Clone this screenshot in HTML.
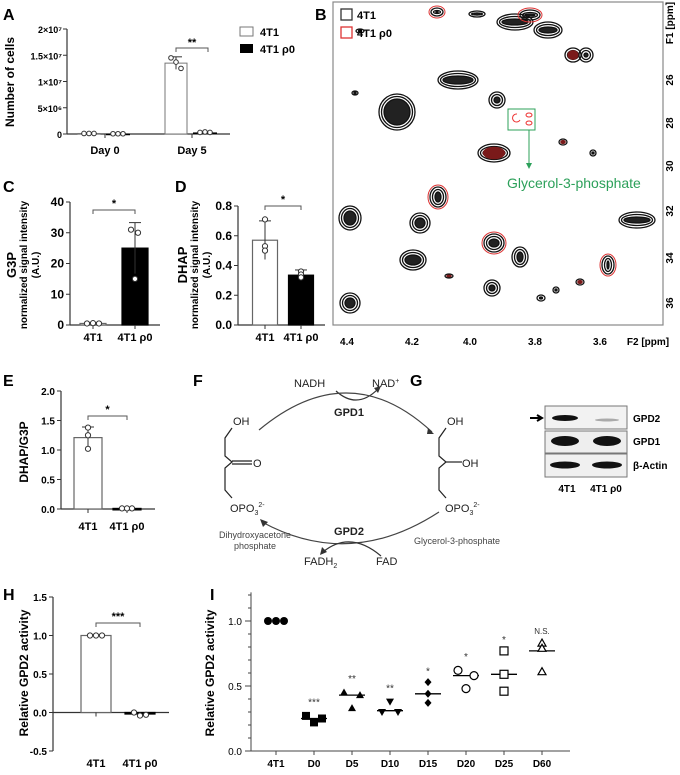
<!DOCTYPE html>
<html><head><meta charset="utf-8">
<style>
html,body{margin:0;padding:0;background:#fff;}
svg{display:block;font-family:"Liberation Sans",Arial,sans-serif;}
.b{font-weight:bold;}
</style></head>
<body>
<svg id="fig" width="680" height="775" viewBox="0 0 680 775" xmlns="http://www.w3.org/2000/svg">
<g font-size="16" font-weight="bold">
<text x="3" y="20">A</text><text x="315" y="20">B</text><text x="3" y="192">C</text><text x="175" y="192">D</text>
<text x="3" y="386">E</text><text x="193" y="386">F</text><text x="410" y="386">G</text>
<text x="3" y="600">H</text><text x="210" y="600">I</text>
</g>

<!-- Panel B NMR -->
<g>
<rect x="333" y="2" width="330" height="323" fill="#fff" stroke="#888" stroke-width="1.2"/>
<g id="blobs"></g>
<rect x="341" y="9" width="11" height="11" fill="none" stroke="#333" stroke-width="1.3"/>
<text x="357" y="19" font-size="11" class="b">4T1</text>
<rect x="341" y="27" width="11" height="11" fill="none" stroke="#d33" stroke-width="1.3"/>
<text x="357" y="37" font-size="11" class="b">4T1 ρ0</text>
<rect x="508" y="109" width="27" height="21" fill="none" stroke="#2ca05a" stroke-width="1"/>
<path d="M517,114 a4,4 0 1,0 3,6" fill="none" stroke="#e33" stroke-width="1"/>
<ellipse cx="529" cy="115" rx="3" ry="2" fill="none" stroke="#e33"/><ellipse cx="529" cy="123" rx="3" ry="2" fill="none" stroke="#e33"/>
<line x1="529" y1="130" x2="529" y2="166" stroke="#2ca05a" stroke-width="1"/>
<path d="M526,163 L529,169 L532,163Z" fill="#2ca05a"/>
<text x="507" y="188" font-size="14" fill="#2ca05a">Glycerol-3-phosphate</text>
<g font-size="10" class="b" text-anchor="middle">
<text x="347" y="345">4.4</text><text x="412" y="345">4.2</text><text x="470" y="345">4.0</text><text x="535" y="345">3.8</text><text x="600" y="345">3.6</text><text x="648" y="345">F2 [ppm]</text>
</g>
<g font-size="10" class="b" text-anchor="middle">
<text transform="translate(673,23) rotate(-90)">F1 [ppm]</text>
<text transform="translate(673,80) rotate(-90)">26</text><text transform="translate(673,123) rotate(-90)">28</text>
<text transform="translate(673,166) rotate(-90)">30</text><text transform="translate(673,211) rotate(-90)">32</text>
<text transform="translate(673,258) rotate(-90)">34</text><text transform="translate(673,303) rotate(-90)">36</text>
</g>
</g>

<!-- Panel F pathway -->
<g font-size="11" fill="#222">
<text x="294" y="387">NADH</text><text x="372" y="387">NAD<tspan font-size="7" dy="-4">+</tspan></text>
<path d="M336,391 Q357,410 378,389" fill="none" stroke="#333" stroke-width="1.2"/>
<path d="M374,388 L381,386 L378,393Z" fill="#333"/>
<path d="M259,430 Q349,355 432,432" fill="none" stroke="#444" stroke-width="1.2"/>
<path d="M428,428 L434,434 L427,434Z" fill="#333"/>
<text x="349" y="416" text-anchor="middle" class="b">GPD1</text>
<text x="233" y="425">OH</text>
<polyline points="232,428 225,438 225,456 232,462 225,468 225,490 232,498" fill="none" stroke="#222" stroke-width="1.2"/>
<line x1="232" y1="461" x2="252" y2="461" stroke="#222" stroke-width="1.2"/><line x1="232" y1="464" x2="252" y2="464" stroke="#222" stroke-width="1.2"/>
<text x="253" y="467">O</text>
<text x="230" y="512">OPO<tspan font-size="7" dy="3">3</tspan><tspan font-size="7" dy="-8">2-</tspan></text>
<text x="447" y="425">OH</text>
<polyline points="446,428 439,438 439,456 446,462 439,468 439,490 446,498" fill="none" stroke="#222" stroke-width="1.2"/>
<line x1="446" y1="462" x2="462" y2="462" stroke="#222" stroke-width="1.2"/>
<text x="462" y="467">OH</text>
<text x="445" y="512">OPO<tspan font-size="7" dy="3">3</tspan><tspan font-size="7" dy="-8">2-</tspan></text>
<path d="M439,512 Q350,570 262,522" fill="none" stroke="#444" stroke-width="1.2"/>
<path d="M260,519 L268,522 L263,527Z" fill="#333"/>
<text x="349" y="535" text-anchor="middle" class="b">GPD2</text>
<text x="255" y="538" font-size="9" text-anchor="middle" fill="#444">Dihydroxyacetone</text>
<text x="255" y="549" font-size="9" text-anchor="middle" fill="#444">phosphate</text>
<text x="457" y="544" font-size="9" text-anchor="middle" fill="#444">Glycerol-3-phosphate</text>
<path d="M381,556 Q350,530 323,552" fill="none" stroke="#333" stroke-width="1.2"/>
<path d="M320,555 L322,547 L327,552Z" fill="#333"/>
<text x="304" y="565">FADH<tspan font-size="7" dy="3">2</tspan></text><text x="376" y="565">FAD</text>
</g>

<!-- Panel G western blot -->
<g>
<rect x="545" y="406" width="82" height="23" fill="#f2f2f2" stroke="#777"/>
<rect x="545" y="431" width="82" height="22" fill="#eee" stroke="#777"/>
<rect x="545" y="454" width="82" height="23" fill="#f0f0f0" stroke="#777"/>
<ellipse cx="565" cy="418" rx="13" ry="3" fill="#111"/><ellipse cx="607" cy="420" rx="12" ry="1.5" fill="#aaa"/>
<ellipse cx="565" cy="441" rx="14" ry="5" fill="#111"/><ellipse cx="607" cy="441" rx="14" ry="5" fill="#111"/>
<ellipse cx="565" cy="465" rx="15" ry="3.5" fill="#111"/><ellipse cx="607" cy="465" rx="15" ry="3.5" fill="#111"/>
<path d="M530,418 L540,418 M537,415 L542,418 L537,421" stroke="#000" stroke-width="2" fill="none"/>
<g font-size="10" class="b"><text x="633" y="422">GPD2</text><text x="633" y="445">GPD1</text><text x="633" y="469">β-Actin</text>
<text x="567" y="492" text-anchor="middle">4T1</text><text x="606" y="492" text-anchor="middle">4T1 ρ0</text></g>
</g>

<g id="charts"></g>
</svg>
<script>
// ===== Panel A data =====
const aGroups = ["Day 0", "Day 5"];
const aWT = [0.01e7, 1.35e7];
const aWTerr = [0, 0.12e7];
const aWTpts = [[0.01e7,0.01e7,0.01e7],[1.45e7,1.37e7,1.25e7]];
const aRho = [0.005e7, 0.03e7];
const aRhoPts = [[0.005e7,0.005e7,0.005e7],[0.03e7,0.04e7,0.03e7]];
const aTicks = ["0","5×10⁶","1×10⁷","1.5×10⁷","2×10⁷"];
const aTickVals = [0,0.5e7,1e7,1.5e7,2e7];
// ===== Panel C data =====
const cCats = ["4T1","4T1 ρ0"];
const cVals = [0.5, 25];
const cErr = [0.3, 8.3];
const cPts = [[0.5,0.6,0.5],[31,30,15]];
const cTicks = [0,10,20,30,40];
// ===== Panel D data =====
const dCats = ["4T1","4T1 ρ0"];
const dVals = [0.57, 0.335];
const dErr = [0.13, 0.035];
const dPts = [[0.71,0.53,0.50],[0.36,0.34,0.32]];
const dTicks = [0,0.2,0.4,0.6,0.8];
// ===== Panel E data =====
const eCats = ["4T1","4T1 ρ0"];
const eVals = [1.21, 0.01];
const eErr = [0.18, 0];
const ePts = [[1.38,1.25,1.02],[0.01,0.01,0.01]];
const eTicks = [0,0.5,1.0,1.5,2.0];
// ===== Panel H data =====
const hCats = ["4T1","4T1 ρ0"];
const hVals = [1.0, -0.02];
const hPts = [[1,1,1],[0.0,-0.04,-0.03]];
const hTicks = [-0.5,0,0.5,1.0,1.5];
// ===== Panel I data =====
const iCats = ["4T1","D0","D5","D10","D15","D20","D25","D60"];
const iPts = [[1,1,1],[0.27,0.22,0.25],[0.45,0.33,0.43],[0.30,0.38,0.30],[0.53,0.44,0.37],[0.62,0.48,0.58],[0.77,0.59,0.46],[0.83,0.79,0.61]];
const iMed = [1,0.25,0.43,0.31,0.44,0.58,0.59,0.77];
const iSig = ["","***","**","**","*","*","*","N.S."];
const iSigVal = [0,0.38,0.56,0.49,0.62,0.73,0.86,0.93];
const iTicks = [0,0.5,1.0];

const NS="http://www.w3.org/2000/svg";
const root=document.getElementById('charts');
function mk(tag,at,parent){const e=document.createElementNS(NS,tag);for(const k in at)e.setAttribute(k,at[k]);(parent||root).appendChild(e);return e;}
function txt(x,y,s,size,anchor,bold,parent,extra){const t=mk('text',Object.assign({x:x,y:y,'font-size':size,'text-anchor':anchor||'middle','font-weight':bold?'bold':'normal'},extra||{}),parent);t.textContent=s;return t;}
function scale(d0,d1,r0,r1){return v=>r0+(v-d0)/(d1-d0)*(r1-r0);}

function barPanel(name,o){
  const g=mk('g',{});
  
  
  const y=scale(o.ymin,o.ymax,o.y0,o.y1);
  mk('line',{x1:o.ax,y1:y(o.ymax),x2:o.ax,y2:y(o.ymin),stroke:'#333','stroke-width':1.2},g);
  mk('line',{x1:o.ax,y1:y(o.base),x2:o.axEnd,y2:y(o.base),stroke:'#333','stroke-width':1.2},g);
  o.ticks.forEach((v,i)=>{mk('line',{x1:o.ax-4,x2:o.ax,y1:y(v),y2:y(v),stroke:'#333'},g);
    txt(o.ax-6,y(v)+4,o.fmt(v),o.tfs||11,'end',true,g);});
  o.cats.forEach((c,i)=>{const cx=o.cx[i];
    const top=y(Math.max(o.vals[i],o.base)),bot=y(Math.min(o.vals[i],o.base));
    const bar=mk('rect',{x:cx-o.bw/2,y:top,width:o.bw,height:Math.max(bot-top,1.5),fill:i==1?'#000':'#fff',stroke:i==1?'#000':'#666','stroke-width':1.2},g);
    
    
    mk('line',{x1:cx,x2:cx,y1:y(o.base),y2:y(o.base)+4,stroke:'#333'},g);
    if(o.err&&o.err[i]>0){mk('line',{x1:cx,x2:cx,y1:y(o.vals[i]+o.err[i]),y2:y(o.vals[i]-o.err[i]),stroke:'#333'},g);
      mk('line',{x1:cx-6,x2:cx+6,y1:y(o.vals[i]+o.err[i]),y2:y(o.vals[i]+o.err[i]),stroke:'#333'},g);}
    o.pts[i].forEach((v,j)=>{mk('circle',{cx:cx+o.jit[i][j],cy:y(v),r:2.6,fill:'#fff',stroke:'#333','stroke-width':1},g);});
    txt(cx,o.labY,c,11,'middle',true,g);
  });
  if(o.br){mk('path',{d:`M${o.cx[0]},${o.br[0]+4}V${o.br[0]}H${o.cx[1]}V${o.br[0]+4}`,fill:'none',stroke:'#555'},g);
    txt((o.cx[0]+o.cx[1])/2,o.br[0]-3,o.br[1],11,'middle',true,g);}
  if(o.yl) o.yl.forEach(l=>txt(0,0,l[0],l[1],'middle',true,g,{transform:`translate(${l[2]},${o.ylc}) rotate(-90)`}));
  return {g,y};
}

(function(){
  const g=mk('g',{});
  
  
  const y=scale(0,2e7,134,29);
  mk('line',{x1:67,x2:67,y1:29,y2:134,stroke:'#333','stroke-width':1.2},g);
  mk('line',{x1:67,x2:230,y1:134,y2:134,stroke:'#333','stroke-width':1.2},g);
  aTickVals.forEach((v,i)=>{mk('line',{x1:63,x2:67,y1:y(v),y2:y(v),stroke:'#333'},g);txt(62,y(v)+4,aTicks[i],9,'end',true,g);});
  const gc=[105,192];
  aGroups.forEach((d,i)=>{
    const c1=gc[i]-16,c2=gc[i]+13;
    mk('rect',{x:c1-11,y:y(aWT[i]),width:22,height:Math.max(134-y(aWT[i]),0.5),fill:'#fff',stroke:'#777'},g);
    mk('rect',{x:c2-12,y:y(aRho[i]),width:24,height:Math.max(134-y(aRho[i]),1.5),fill:'#000'},g);
    if(aWTerr[i]>0){mk('line',{x1:c1,x2:c1,y1:y(aWT[i]+aWTerr[i]),y2:y(aWT[i]-aWTerr[i]),stroke:'#333'},g);
      mk('line',{x1:c1-6,x2:c1+6,y1:y(aWT[i]+aWTerr[i]),y2:y(aWT[i]+aWTerr[i]),stroke:'#333'},g);}
    aWTpts[i].forEach((v,j)=>mk('circle',{cx:c1+(j-1)*5,cy:y(v),r:2.3,fill:'#fff',stroke:'#333'},g));
    aRhoPts[i].forEach((v,j)=>mk('circle',{cx:c2+(j-1)*5,cy:y(v),r:2.3,fill:'#fff',stroke:'#333'},g));
    mk('line',{x1:gc[i],x2:gc[i],y1:134,y2:138,stroke:'#333'},g);
    txt(gc[i],154,d,11,'middle',true,g);
  });
  mk('path',{d:'M176,52V48H208V52',fill:'none',stroke:'#555'},g);
  txt(192,46,'**',11,'middle',true,g);
  txt(0,0,'Number of cells',12,'middle',true,g,{transform:'translate(14,82) rotate(-90)'});
  mk('rect',{x:240,y:27,width:13,height:9,fill:'#fff',stroke:'#777'},g);
  txt(260,36,'4T1',11,'start',true,g);
  mk('rect',{x:240,y:44,width:13,height:9,fill:'#000'},g);
  txt(260,53,'4T1 ρ0',11,'start',true,g);
})();

barPanel('panel-c-g3p',{ymin:0,ymax:40,y0:325,y1:202,ax:70,axEnd:160,base:0,ticks:cTicks,fmt:v=>String(v),cats:cCats,cx:[93,135],bw:26,vals:cVals,err:cErr,pts:cPts,jit:[[-6,0,6],[-4,3,0]],labY:341,br:[210,'*'],ylc:265,tfs:12,
  yl:[['G3P',13,16],['normalized signal intensity',10,27],['(A.U.)',10,39]]});
barPanel('panel-d-dhap',{ymin:0,ymax:0.8,y0:325,y1:206,ax:238,axEnd:325,base:0,ticks:dTicks,fmt:v=>v.toFixed(1),cats:dCats,cx:[265,301],bw:25,vals:dVals,err:dErr,pts:dPts,jit:[[0,0,0],[0,0,0]],labY:341,br:[206,'*'],ylc:265,tfs:12,
  yl:[['DHAP',13,187],['normalized signal intensity',10,198],['(A.U.)',10,210]]});
barPanel('panel-e-ratio',{ymin:0,ymax:2,y0:509,y1:391,ax:61,axEnd:155,base:0,ticks:eTicks,fmt:v=>v.toFixed(1),cats:eCats,cx:[88,127],bw:28,vals:eVals,err:eErr,pts:ePts,jit:[[0,0,0],[-5,0,5]],labY:530,br:[416,'*'],ylc:452,tfs:10,
  yl:[['DHAP/G3P',12,28]]});
barPanel('panel-h-gpd2',{ymin:-0.5,ymax:1.5,y0:751,y1:597,ax:53,axEnd:169,base:0,ticks:hTicks,fmt:v=>v.toFixed(1),cats:hCats,cx:[96,140],bw:30,vals:hVals,err:null,pts:hPts,jit:[[-6,0,6],[-6,0,6]],labY:767,br:[623,'***'],ylc:673,tfs:10,
  yl:[['Relative GPD2 activity',12,28]]});

(function(){
  const g=mk('g',{});
  
  
  const y=scale(0,1,751,621);
  const x=i=>276+i*38;
  mk('line',{x1:251,x2:251,y1:y(1.22),y2:751,stroke:'#444'},g);
  mk('line',{x1:251,x2:570,y1:751,y2:751,stroke:'#444'},g);
  for(let v=0;v<=1.2001;v+=0.1){mk('line',{x1:248,x2:251,y1:y(v),y2:y(v),stroke:'#444'},g);}
  iTicks.forEach(v=>{mk('line',{x1:245,x2:251,y1:y(v),y2:y(v),stroke:'#444'},g);txt(242,y(v)+4,v.toFixed(1),10,'end',false,g);});
  txt(0,0,'Relative GPD2 activity',12,'middle',true,g,{transform:`translate(214,673) rotate(-90)`});
  const shapes=['circle','square','tri','itri','diamond','ocircle','osquare','otri'];
  iCats.forEach((c,i)=>{
    const cx=x(i);
    mk('line',{x1:cx,x2:cx,y1:751,y2:755,stroke:'#444'},g);
    txt(cx,767,c,10,'middle',true,g);
    if(i>0) mk('line',{x1:cx-13,x2:cx+13,y1:y(iMed[i]),y2:y(iMed[i]),stroke:'#000','stroke-width':1.3},g);
    const jit=(i==4||i==6||i==7)?[0,0,0]:[-8,0,8];
    iPts[i].forEach((v,j)=>{
      const px=cx+jit[j],py=y(v),s=shapes[i];let m;
      if(s=='circle') m=mk('circle',{cx:px,cy:py,r:4,fill:'#000'},g);
      else if(s=='ocircle') m=mk('circle',{cx:px,cy:py,r:4,fill:'#fff',stroke:'#000','stroke-width':1.2},g);
      else if(s=='square') m=mk('rect',{x:px-4,y:py-4,width:8,height:8,fill:'#000'},g);
      else if(s=='osquare') m=mk('rect',{x:px-4,y:py-4,width:8,height:8,fill:'#fff',stroke:'#000','stroke-width':1.2},g);
      else if(s=='tri') m=mk('path',{d:`M${px},${py-4}L${px+4},${py+3}L${px-4},${py+3}Z`,fill:'#000'},g);
      else if(s=='otri') m=mk('path',{d:`M${px},${py-4}L${px+4},${py+3}L${px-4},${py+3}Z`,fill:'#fff',stroke:'#000','stroke-width':1.2},g);
      else if(s=='itri') m=mk('path',{d:`M${px},${py+4}L${px+4},${py-3}L${px-4},${py-3}Z`,fill:'#000'},g);
      else m=mk('path',{d:`M${px},${py-4}L${px+3.5},${py}L${px},${py+4}L${px-3.5},${py}Z`,fill:'#000'},g);
      
      
    });
    if(iSig[i]) txt(cx,y(iSigVal[i])+4,iSig[i],iSig[i]=='N.S.'?8:10,'middle',false,g,{fill:'#333'});
  });
})();

(function(){
  const bg=document.getElementById('blobs');
  const blobs=[[437,12,6,4,1],[477,14,8,3,0],[515,22,18,8,0],[548,30,14,8,0],[530,15,10,5,1],[573,55,8,7,2],[586,55,7,7,0],
   [458,80,20,9,0],[397,112,18,18,0],[497,100,8,8,0],[494,153,16,9,2],[563,142,4,3,2],[593,153,3,3,0],[438,197,8,10,1],
   [350,218,11,12,0],[420,223,10,10,0],[637,220,18,8,0],[413,260,13,10,0],[494,243,10,9,1],[520,257,8,10,0],
   [608,265,6,9,1],[492,288,8,8,0],[350,303,10,10,0],[449,276,4,2,2],[580,282,4,3,2],[556,290,3,3,0],[360,31,4,2,0],[355,93,3,2,0],[541,298,4,3,0]];
  blobs.forEach(b=>{
    for(let k=0;k<3;k++){
      mk('ellipse',{cx:b[0],cy:b[1],rx:Math.max(b[2]-k*2.5,1),ry:Math.max(b[3]-k*2.5,1),fill:k==2?'#222':'none',stroke:'#111','stroke-width':1.3},bg);
    }
    if(b[4]==1) mk('ellipse',{cx:b[0],cy:b[1],rx:b[2]+2,ry:b[3]+2,fill:'none',stroke:'#d33','stroke-width':1},bg);
    if(b[4]==2) mk('ellipse',{cx:b[0],cy:b[1],rx:b[2]*0.7,ry:b[3]*0.7,fill:'#7a1a1a'},bg);
  });
})();
</script>
</body></html>
